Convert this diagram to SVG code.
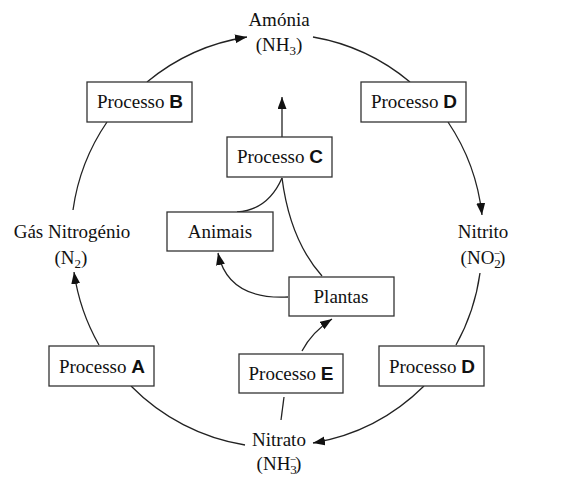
<svg xmlns="http://www.w3.org/2000/svg" width="586" height="481" viewBox="0 0 586 481">
<style>
  .box { fill: #fff; stroke: #333; stroke-width: 1.3; }
  .lbl { font-family: "Liberation Serif", "Times New Roman", serif; font-size: 19px; fill: #111; text-anchor: middle; }
  .b { font-family: "Liberation Sans", Arial, sans-serif; font-weight: bold; font-size: 19px; }
  .con { fill: none; stroke: #222; stroke-width: 1.3; }
  .sub { font-size: 13px; }
  .sup { font-size: 11px; }
</style>
<defs>
  <marker id="ah" markerUnits="userSpaceOnUse" markerWidth="13" markerHeight="10" refX="12" refY="4.5" orient="auto">
    <path d="M0,0 L12,4.5 L0,9 z" fill="#111"/>
  </marker>
</defs>
<rect width="586" height="481" fill="#fff"/>
<g id="connectors">
  <path class="con" d="M147,82 A206,206 0 0 1 247,37" marker-end="url(#ah)"/>
  <path class="con" d="M313,37 A206,206 0 0 1 410,82"/>
  <path class="con" d="M448,122 A206,206 0 0 1 482,215" marker-end="url(#ah)"/>
  <path class="con" d="M480,273 A206,206 0 0 1 456,345"/>
  <path class="con" d="M424,386 A206,206 0 0 1 313,443" marker-end="url(#ah)"/>
  <path class="con" d="M131,386 A206,206 0 0 0 245,445"/>
  <path class="con" d="M99,345 A206,206 0 0 1 74,272" marker-end="url(#ah)"/>
  <path class="con" d="M107,122 A206,206 0 0 0 73,210"/>
  <path class="con" d="M282,137 L282,97" marker-end="url(#ah)"/>
  <path class="con" d="M282,178 Q268,210 237,212"/>
  <path class="con" d="M282,178 Q290,240 322,276"/>
  <path class="con" d="M288,297 Q228,300 218,253" marker-end="url(#ah)"/>
  <path class="con" d="M302,351 Q312,332 332,319" marker-end="url(#ah)"/>
  <path class="con" d="M284,397 L281,420"/>
</g>
<g id="amonia">
  <text class="lbl" x="279" y="26">Amónia</text>
  <text class="lbl" x="279" y="51">(NH<tspan class="sub" dy="4">3</tspan><tspan dy="-4">)</tspan></text>
</g>
<g id="gas-nitrogenio">
  <text class="lbl" x="72" y="238">Gás Nitrogénio</text>
  <text class="lbl" x="71" y="264">(N<tspan class="sub" dy="4">2</tspan><tspan dy="-4">)</tspan></text>
</g>
<g id="nitrito">
  <text class="lbl" x="483" y="238">Nitrito</text>
  <text class="lbl" x="483" y="264">(NO<tspan class="sub" dy="4">2</tspan><tspan class="sup" dx="-7" dy="-11">−</tspan><tspan dx="-1" dy="7">)</tspan></text>
</g>
<g id="nitrato">
  <text class="lbl" x="279" y="446">Nitrato</text>
  <text class="lbl" x="279" y="470">(NH<tspan class="sub" dy="4">3</tspan><tspan class="sup" dx="-7" dy="-11">−</tspan><tspan dx="-1" dy="7">)</tspan></text>
</g>
<g id="processo-b">
  <rect class="box" x="87" y="82" width="105" height="40"/>
  <text class="lbl" x="140" y="108">Processo <tspan class="b">B</tspan></text>
</g>
<g id="processo-d-top">
  <rect class="box" x="361" y="82" width="105" height="40"/>
  <text class="lbl" x="414" y="108">Processo <tspan class="b">D</tspan></text>
</g>
<g id="processo-c">
  <rect class="box" x="227" y="137" width="105" height="40"/>
  <text class="lbl" x="280" y="163">Processo <tspan class="b">C</tspan></text>
</g>
<g id="animais">
  <rect class="box" x="167" y="212" width="106" height="39"/>
  <text class="lbl" x="220" y="238">Animais</text>
</g>
<g id="plantas">
  <rect class="box" x="289" y="277" width="105" height="39"/>
  <text class="lbl" x="341" y="303">Plantas</text>
</g>
<g id="processo-a">
  <rect class="box" x="49" y="346" width="105" height="40"/>
  <text class="lbl" x="102" y="373">Processo <tspan class="b">A</tspan></text>
</g>
<g id="processo-e">
  <rect class="box" x="239" y="354" width="104" height="39"/>
  <text class="lbl" x="291" y="380">Processo <tspan class="b">E</tspan></text>
</g>
<g id="processo-d-bottom">
  <rect class="box" x="379" y="346" width="105" height="40"/>
  <text class="lbl" x="432" y="373">Processo <tspan class="b">D</tspan></text>
</g>
</svg>
